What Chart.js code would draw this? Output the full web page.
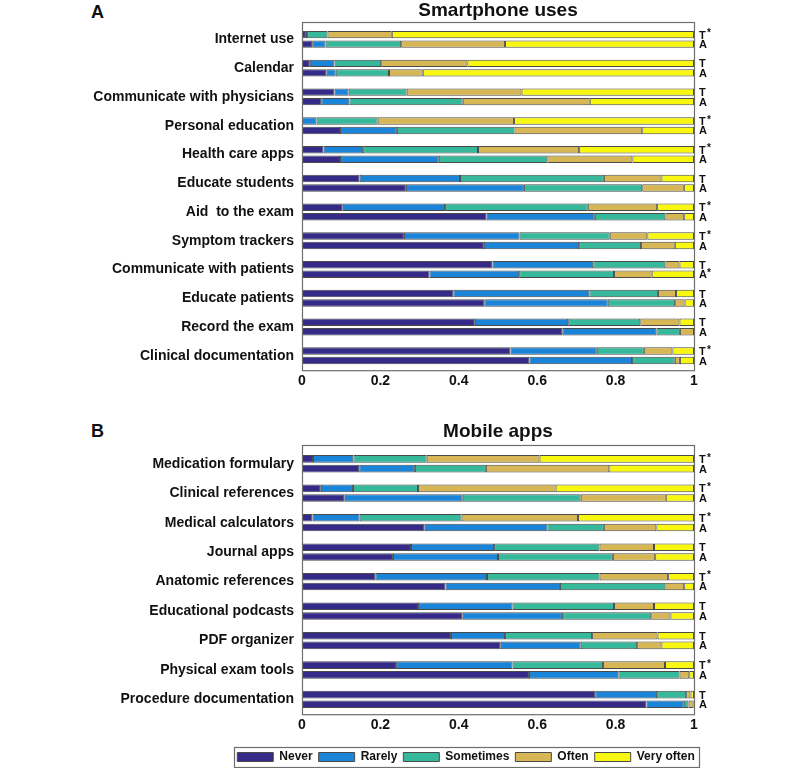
<!DOCTYPE html>
<html>
<head>
<meta charset="utf-8">
<script src="https://cdn.jsdelivr.net/npm/chart.js@4.4.1/dist/chart.umd.min.js"></script>
<style>
  html, body { margin: 0; padding: 0; background: #ffffff; width: 800px; height: 768px; overflow: hidden; position: relative; }
  canvas { position: absolute; display: block; }
  .panel-letter { position: absolute; font: bold 18px "Liberation Sans", Arial, sans-serif; color: #111; }
</style>
</head>
<body>
<div class="panel-letter" style="left:91px; top:2px;">A</div>
<div class="panel-letter" style="left:91px; top:421px;">B</div>
<canvas id="chartA" width="800" height="400" style="left:0; top:0;"></canvas>
<canvas id="chartB" width="800" height="330" style="left:0; top:410px;"></canvas>
<canvas id="chartLegend" width="480" height="60" style="left:226px; top:745px;"></canvas>
<script>
// ---------- DATA ----------
const levels = ["Never", "Rarely", "Sometimes", "Often", "Very often"];
const xTickLabels = ["0", "0.2", "0.4", "0.6", "0.8", "1"];

// Panel A: Smartphone uses
const smartTitle = "Smartphone uses";
const smartCategories = ["Internet use", "Calendar", "Communicate with physicians", "Personal education",
  "Health care apps", "Educate students", "Aid  to the exam", "Symptom trackers",
  "Communicate with patients", "Educate patients", "Record the exam", "Clinical documentation"];
const smartMarksT = ["T*", "T", "T", "T*", "T*", "T", "T*", "T*", "T", "T", "T", "T*"];
const smartMarksA = ["A", "A", "A", "A", "A", "A", "A", "A", "A*", "A", "A", "A"];

const smartNeverT     = [0.010, 0.020, 0.083, 0.000, 0.055, 0.147, 0.104, 0.260, 0.486, 0.386, 0.441, 0.532];
const smartRarelyT    = [0.003, 0.063, 0.036, 0.037, 0.101, 0.256, 0.261, 0.295, 0.257, 0.347, 0.238, 0.220];
const smartSometimesT = [0.052, 0.119, 0.148, 0.156, 0.293, 0.367, 0.364, 0.230, 0.184, 0.175, 0.184, 0.120];
const smartOftenT     = [0.164, 0.220, 0.293, 0.348, 0.258, 0.147, 0.177, 0.096, 0.036, 0.046, 0.100, 0.073];
const smartVeryOftenT = [0.771, 0.578, 0.440, 0.459, 0.293, 0.083, 0.094, 0.119, 0.037, 0.046, 0.037, 0.055];

const smartNeverA     = [0.026, 0.063, 0.049, 0.097, 0.097, 0.265, 0.471, 0.464, 0.325, 0.465, 0.664, 0.580];
const smartRarelyA    = [0.034, 0.023, 0.072, 0.145, 0.252, 0.301, 0.276, 0.243, 0.229, 0.315, 0.240, 0.262];
const smartSometimesA = [0.193, 0.136, 0.289, 0.300, 0.277, 0.302, 0.180, 0.158, 0.242, 0.172, 0.060, 0.109];
const smartOftenA     = [0.265, 0.086, 0.324, 0.326, 0.217, 0.106, 0.048, 0.086, 0.096, 0.024, 0.036, 0.013];
const smartVeryOftenA = [0.482, 0.692, 0.266, 0.132, 0.157, 0.026, 0.025, 0.049, 0.108, 0.024, 0.000, 0.036];

// Panel B: Mobile apps
const appTitle = "Mobile apps";
const appCategories = ["Medication formulary", "Clinical references", "Medical calculators", "Journal apps",
  "Anatomic references", "Educational podcasts", "PDF organizer", "Physical exam tools", "Procedure documentation"];
const appMarksT = ["T*", "T*", "T*", "T", "T*", "T", "T", "T*", "T"];
const appMarksA = ["A", "A", "A", "A", "A", "A", "A", "A", "A"];

const appNeverT     = [0.028, 0.048, 0.027, 0.278, 0.187, 0.296, 0.380, 0.240, 0.748];
const appRarelyT    = [0.103, 0.082, 0.120, 0.212, 0.285, 0.241, 0.138, 0.297, 0.158];
const appSometimesT = [0.187, 0.166, 0.260, 0.269, 0.287, 0.259, 0.222, 0.231, 0.074];
const appOftenT     = [0.288, 0.351, 0.297, 0.139, 0.175, 0.102, 0.167, 0.158, 0.011];
const appVeryOftenT = [0.394, 0.353, 0.296, 0.102, 0.066, 0.102, 0.093, 0.074, 0.009];

const appNeverA     = [0.146, 0.109, 0.313, 0.232, 0.366, 0.410, 0.507, 0.579, 0.879];
const appRarelyA    = [0.142, 0.301, 0.313, 0.268, 0.292, 0.253, 0.204, 0.228, 0.095];
const appSometimesA = [0.181, 0.301, 0.144, 0.293, 0.269, 0.228, 0.144, 0.156, 0.012];
const appOftenA     = [0.315, 0.217, 0.134, 0.108, 0.048, 0.049, 0.062, 0.025, 0.013];
const appVeryOftenA = [0.216, 0.072, 0.096, 0.099, 0.025, 0.060, 0.083, 0.012, 0.001];

// ---------- STYLE ----------
const FONT = '"Liberation Sans", Arial, Helvetica, sans-serif';
const colors = ["#352a87", "#1a84d8", "#36b99b", "#d6b655", "#f8f70f"];
const edge = "#4a4a4a";

// box around the plot area (slightly taller at the top, as in the original figure)
const framePlugin = {
  id: "frame",
  afterDraw(chart, args, opts) {
    const a = chart.chartArea, ctx = chart.ctx;
    const extra = opts.extraTop || 0;
    ctx.save();
    ctx.strokeStyle = "#6e6e6e";
    ctx.lineWidth = 1.2;
    ctx.strokeRect(a.left + 0.5, a.top - extra + 0.5, a.right - a.left, a.bottom - a.top + extra);
    ctx.restore();
  }
};

// panel title centred over the plot box
const boxTitlePlugin = {
  id: "boxTitle",
  afterDraw(chart, args, opts) {
    const a = chart.chartArea, ctx = chart.ctx;
    ctx.save();
    ctx.fillStyle = "#111";
    ctx.font = "bold 19px " + FONT;
    ctx.textAlign = "center";
    ctx.textBaseline = "middle";
    ctx.fillText(opts.text, (a.left + a.right) / 2, opts.y);
    ctx.restore();
  }
};

const marksPlugin = {
  id: "marks",
  afterDatasetsDraw(chart, args, opts) {
    const ctx = chart.ctx, a = chart.chartArea;
    const metaT = chart.getDatasetMeta(0), metaA = chart.getDatasetMeta(5);
    ctx.save();
    ctx.fillStyle = "#111";
    ctx.textBaseline = "middle";
    ctx.textAlign = "left";
    const draw = (txt, y) => {
      const x = a.right + 5;
      ctx.font = "bold 11px " + FONT;
      ctx.fillText(txt.charAt(0), x, y + 1);
      if (txt.length > 1) {
        ctx.font = "bold 10px " + FONT;
        ctx.fillText("*", x + 8, y - 1);
      }
    };
    opts.marksT.forEach((m, i) => draw(m, metaT.data[i].y));
    opts.marksA.forEach((m, i) => draw(m, metaA.data[i].y));
    ctx.restore();
  }
};

function buildDatasets(tSeries, aSeries) {
  const ds = [];
  const mk = (d, k, st) => ({
    label: levels[k], data: d, stack: st, backgroundColor: colors[k],
    borderColor: edge, borderWidth: 1, borderSkipped: false,
    categoryPercentage: 0.66, barPercentage: 0.78
  });
  tSeries.forEach((d, k) => ds.push(mk(d, k, "T")));
  aSeries.forEach((d, k) => ds.push(mk(d, k, "A")));
  return ds;
}

function makePanel(id, title, titleY, cats, tSeries, aSeries, marksT, marksA, padTop, padBottom, extraTop) {
  return new Chart(document.getElementById(id), {
    type: "bar",
    data: { labels: cats, datasets: buildDatasets(tSeries, aSeries) },
    options: {
      indexAxis: "y",
      responsive: false,
      animation: false,
      events: [],
      layout: { padding: { left: 0, right: 106, top: padTop, bottom: padBottom } },
      plugins: {
        legend: { display: false },
        tooltip: { enabled: false },
        title: { display: false },
        frame: { extraTop: extraTop },
        boxTitle: { text: title, y: titleY },
        marks: { marksT: marksT, marksA: marksA }
      },
      scales: {
        x: {
          stacked: true, min: 0, max: 1,
          grid: { display: false, drawTicks: false, tickLength: 0 },
          border: { display: false },
          ticks: {
            stepSize: 0.2, padding: 3, color: "#111",
            font: { family: FONT, size: 14, weight: "bold" },
            callback: (v, i) => xTickLabels[i]
          }
        },
        y: {
          stacked: true,
          grid: { display: false, drawTicks: false, tickLength: 0 },
          border: { display: false },
          ticks: { padding: 8, color: "#111", font: { family: FONT, size: 14, weight: "bold" } },
          afterFit(scale) { scale.width = 302; }
        }
      }
    },
    plugins: [framePlugin, boxTitlePlugin, marksPlugin]
  });
}

makePanel("chartA", smartTitle, 11, smartCategories,
  [smartNeverT, smartRarelyT, smartSometimesT, smartOftenT, smartVeryOftenT],
  [smartNeverA, smartRarelyA, smartSometimesA, smartOftenA, smartVeryOftenA],
  smartMarksT, smartMarksA, 25, 7, 3);

makePanel("chartB", appTitle, 22, appCategories,
  [appNeverT, appRarelyT, appSometimesT, appOftenT, appVeryOftenT],
  [appNeverA, appRarelyA, appSometimesA, appOftenA, appVeryOftenA],
  appMarksT, appMarksA, 39, 3, 4);

// ---------- LEGEND ----------
const legendFrame = {
  id: "legendFrame",
  afterDraw(chart) {
    const hb = chart.legend.legendHitBoxes;
    if (!hb || !hb.length) return;
    let l = Infinity, r = -Infinity, t = Infinity, b = -Infinity;
    hb.forEach(h => { l = Math.min(l, h.left); r = Math.max(r, h.left + h.width); t = Math.min(t, h.top); b = Math.max(b, h.top + h.height); });
    const ctx = chart.ctx;
    ctx.save();
    ctx.strokeStyle = "#6e6e6e";
    ctx.lineWidth = 1.2;
    ctx.strokeRect(Math.round(l - 3) + 0.5, Math.round(t - 4) + 0.5, Math.round(r - l + 8), Math.round(b - t + 8));
    ctx.restore();
  }
};

new Chart(document.getElementById("chartLegend"), {
  type: "bar",
  data: {
    labels: [],
    datasets: levels.map((lv, k) => ({ label: lv, data: [], backgroundColor: colors[k], borderColor: edge, borderWidth: 1 }))
  },
  options: {
    responsive: false,
    animation: false,
    events: [],
    layout: { padding: 0 },
    scales: { x: { display: false }, y: { display: false } },
    plugins: {
      tooltip: { enabled: false },
      legend: {
        display: true, position: "top", align: "center",
        labels: {
          boxWidth: 36, boxHeight: 9, padding: 6, color: "#111",
          font: { family: FONT, size: 12, weight: "bold" }
        }
      }
    }
  },
  plugins: [legendFrame]
});
</script>
</body>
</html>
